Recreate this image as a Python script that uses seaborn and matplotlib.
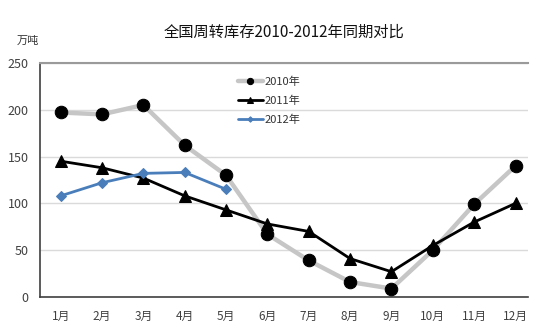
import matplotlib
matplotlib.use("Agg")
import matplotlib.pyplot as plt
import seaborn as sns
import pandas as pd

months = ["1月", "2月", "3月", "4月", "5月", "6月", "7月", "8月", "9月", "10月", "11月", "12月"]
stock_2010 = [197, 195, 205, 162, 130, 67, 39, 16, 9, 50, 99, 140]
stock_2011 = [145, 138, 127, 108, 93, 78, 70, 41, 27, 55, 80, 100]
stock_2012 = [108, 122, 132, 133, 115]
series_names = ["2010年", "2011年", "2012年"]

sns.set_theme(style="white")
plt.rcParams["font.family"] = ["Noto Sans CJK SC", "DejaVu Sans"]

frames = []
for name, vals in zip(series_names, [stock_2010, stock_2011, stock_2012]):
    frames.append(pd.DataFrame({"x": range(len(vals)), "value": vals, "series": name}))
df = pd.concat(frames, ignore_index=True)

fig = plt.figure(figsize=(5.47, 3.35), dpi=100)
ax = fig.add_axes([0.0731, 0.1134, 0.892, 0.699])

styles = {
    "2010年": dict(color="#c6c6c6", lw=3.2, marker="o", ms=9, mfc="black", mec="black"),
    "2011年": dict(color="black", lw=2.0, marker="^", ms=9, mfc="black", mec="black"),
    "2012年": dict(color="#4a7ebb", lw=2.0, marker="D", ms=5.5, mfc="#4a7ebb", mec="#4a7ebb"),
}
for name in series_names:
    st = styles[name]
    sns.lineplot(data=df[df["series"] == name], x="x", y="value", ax=ax,
                 color=st["color"], linewidth=st["lw"], marker=st["marker"],
                 markersize=st["ms"], markerfacecolor=st["mfc"],
                 markeredgecolor=st["mec"], label=name, zorder=3)

ax.set_xlim(-0.5, 11.3)
ax.set_ylim(0, 250)
ax.set_yticks([0, 50, 100, 150, 200, 250])
ax.grid(axis="y", color="#dadada", linewidth=1)
ax.set_axisbelow(True)
ax.set_xticks(range(12))
ax.set_xticklabels(months)
ax.set_xticks([i + 0.5 for i in range(-1, 11)], minor=True)
ax.tick_params(axis="x", which="major", length=0, labelsize=8.5, colors="#404040", pad=9)
ax.tick_params(axis="x", which="minor", length=4, width=1, color="#404040", direction="out")
ax.tick_params(axis="y", length=0, labelsize=9, colors="#404040", pad=8)
ax.set_xlabel("")
ax.set_ylabel("")

for side in ["left", "bottom"]:
    ax.spines[side].set_color("#404040")
    ax.spines[side].set_linewidth(1.2)
ax.spines["right"].set_visible(False)
ax.spines["top"].set_color("#9a9a9a")
ax.spines["top"].set_linewidth(1.5)

leg = ax.legend(loc="upper left", bbox_to_anchor=(0.417, 0.80), bbox_transform=fig.transFigure,
                frameon=False, fontsize=8, handlelength=2.2, handletextpad=0.2,
                labelspacing=0.75, markerscale=0.5)
for t in leg.get_texts():
    t.set_color("#333333")

fig.text(0.52, 0.905, "全国周转库存2010-2012年同期对比", ha="center", va="center",
         fontsize=11, color="#111111")
fig.text(0.03, 0.878, "万吨", ha="left", va="center", fontsize=8, color="#333333")

fig.savefig("out.png", dpi=100)
